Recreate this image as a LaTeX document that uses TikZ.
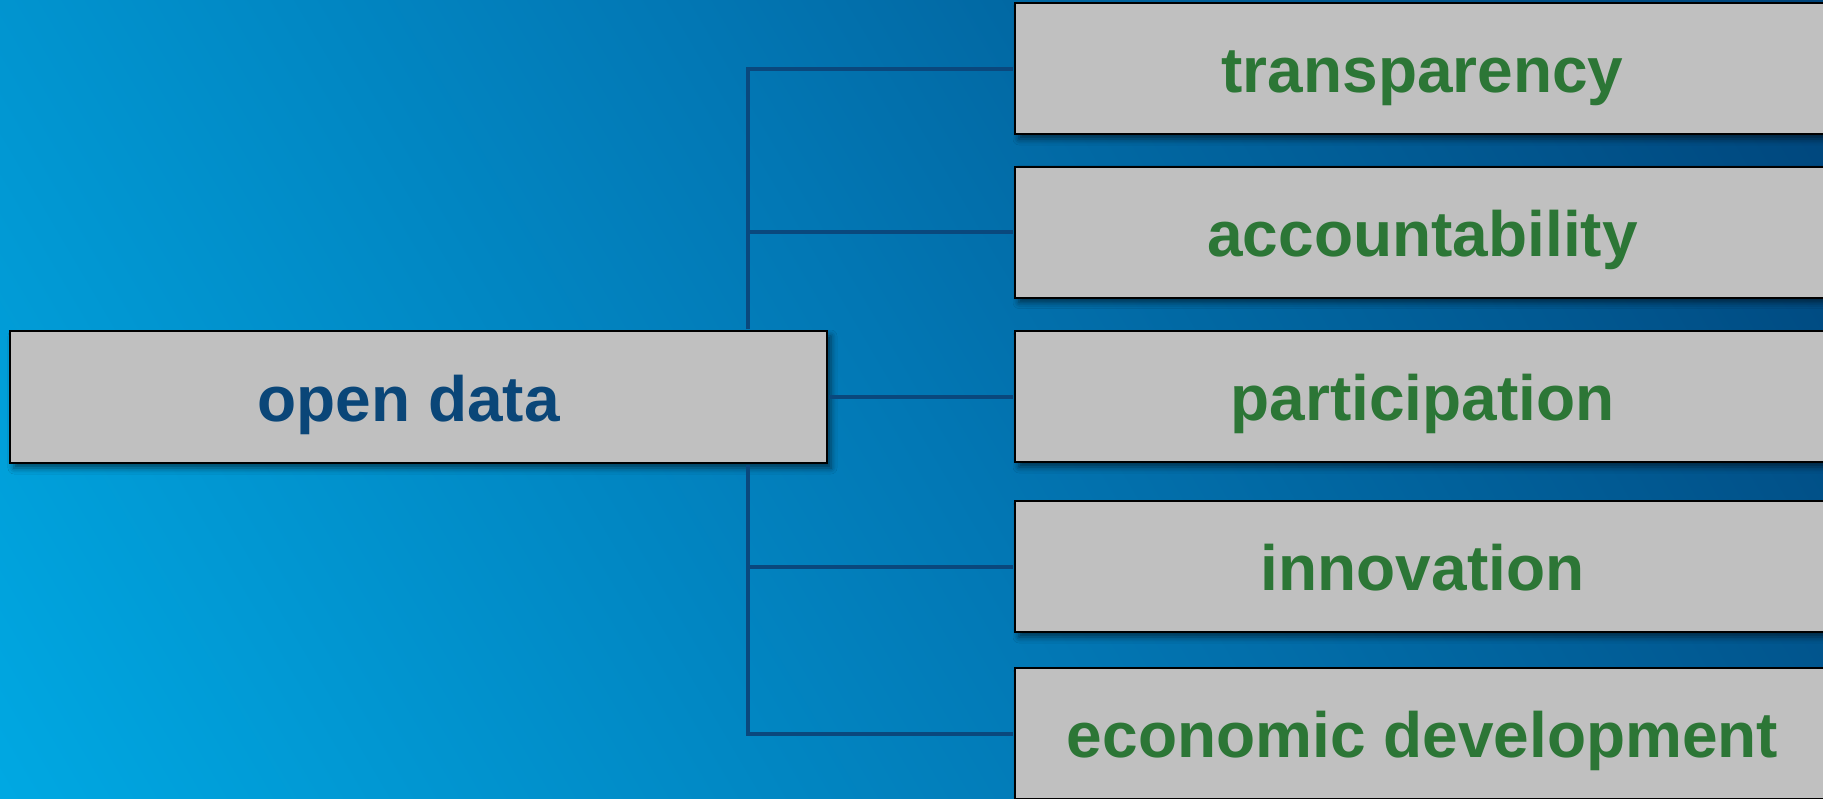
\documentclass[tikz,border=0pt]{standalone}
\usepackage{fontspec}
\setmainfont{Liberation Sans}
\usetikzlibrary{shadows.blur}
\definecolor{bgLight}{RGB}{0,168,226}
\definecolor{bgMid}{RGB}{2,119,180}
\definecolor{bgDark}{RGB}{0,68,122}
\definecolor{lineblue}{RGB}{10,72,125}
\definecolor{boxgray}{RGB}{192,192,192}
\definecolor{txtgreen}{RGB}{44,118,54}
\definecolor{txtblue}{RGB}{10,70,120}
\pgfdeclarehorizontalshading{bgshade}{100bp}{color(0bp)=(bgLight); color(15.8bp)=(bgLight); color(50bp)=(bgMid); color(84.2bp)=(bgDark); color(100bp)=(bgDark)}
\begin{document}
\begin{tikzpicture}[x=0.5pt,y=-0.5pt,
  box/.style={draw=black, line width=1pt, fill=boxgray, rectangle, inner sep=0pt,
    text height=24pt, text depth=0pt, font=\fontsize{32}{38}\selectfont\bfseries,
    blur shadow={shadow xshift=2pt, shadow yshift=-2.5pt, shadow blur radius=3pt, shadow opacity=55}},
  rbox/.style={box, minimum width=407.5pt, minimum height=65.5pt, text=txtgreen},
  mbox/.style={box, minimum width=408.5pt, minimum height=66pt, text=txtblue},
  link/.style={draw=lineblue, line width=2pt, shorten >=0.5pt, shorten <=0.5pt}]
\useasboundingbox (0,0) rectangle (1823,798);
\shade[shading=bgshade, shading angle=30.4] (0,0) rectangle (1823,798);
\node[mbox] (od) at (418.5,397) {\kern-10pt open data};
\node[rbox] (t1) at (1422.5,68.5) {transparency};
\node[rbox] (t2) at (1422.5,232) {accountability};
\node[rbox] (t3) at (1422.5,396.5) {participation};
\node[rbox] (t4) at (1422.5,566.5) {innovation};
\node[rbox] (t5) at (1422.5,733.5) {economic development};
\coordinate (jx) at (747.5,0);
\draw[link] (od.north -| jx) |- (t1.west);
\draw[link] (od.north -| jx) |- (t2.west);
\draw[link] (od.east) -- (od.east -| t3.west);
\draw[link] (od.south -| jx) |- (t4.west);
\draw[link] (od.south -| jx) |- (t5.west);
\end{tikzpicture}
\end{document}
